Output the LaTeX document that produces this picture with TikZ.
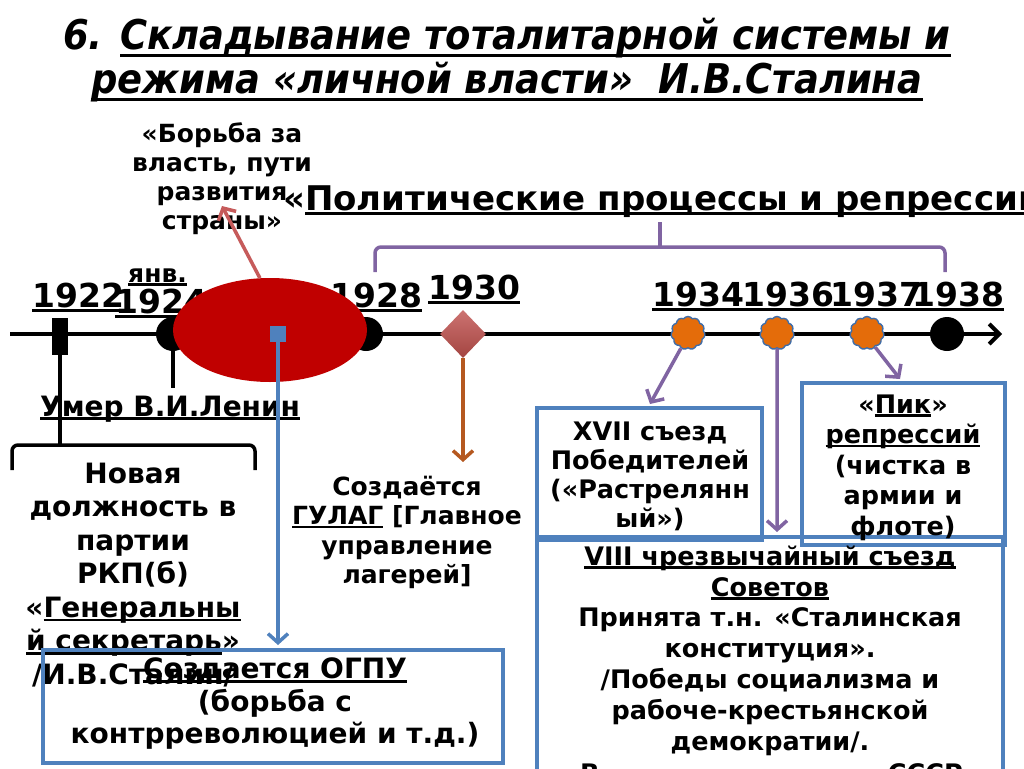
\documentclass[tikz,border=0pt]{standalone}
\usepackage{fontspec}
\setmainfont{DejaVu Sans}
\newfontfamily\titlefont{DejaVu Sans Condensed}
\usetikzlibrary{arrows.meta,shapes.symbols,shapes.geometric}
\newsavebox\ulbox
\newcommand\uln[2][0.14em]{\sbox\ulbox{#2}\rlap{\rule[-#1]{\wd\ulbox}{0.09em}}\usebox\ulbox}
\newcommand\fsz[2]{\fontsize{#1}{#2}\selectfont}
\newcommand\tp{\rule{0pt}{0.8em}}
\definecolor{myblue}{HTML}{4F81BD}
\definecolor{mypurple}{HTML}{8064A2}
\definecolor{mybrown}{HTML}{B5581F}
\definecolor{myred}{HTML}{C00000}
\definecolor{arrred}{HTML}{C65B5B}
\definecolor{dia}{HTML}{C0504D}
\definecolor{blob}{HTML}{E46C0A}
\definecolor{blobedge}{HTML}{3F6DA8}
\tikzset{
  txt/.style={align=center, inner sep=0pt},
  year/.style={font=\bfseries\fsz{33}{36}, anchor=base west, inner sep=0pt},
  boxr/.style={draw=myblue, line width=3.5pt, inner sep=0pt},
  barb/.style={line width=3.5pt, -{Straight Barb[length=9pt,width=20pt]}},
  blobnode/.style={cloud, cloud puffs=11, cloud puff arc=110, aspect=1, fill=blob, draw=blobedge, line width=1.4pt, minimum width=34pt, minimum height=33pt, inner sep=0pt},
  dot/.style={circle, fill=black, minimum size=34pt, inner sep=0pt}
}
\begin{document}
\begin{tikzpicture}[x=1pt,y=-1pt]
\useasboundingbox (0,0) rectangle (1024,768);
\fill[white] (0,0) rectangle (1024,768);

% title
\node[anchor=base, inner sep=0pt, font=\titlefont\bfseries\itshape\fsz{41}{44}] (t1) at (507,49) {6. \uln[0.2em]{Складывание тоталитарной системы и}};
\node[anchor=base, inner sep=0pt, font=\titlefont\bfseries\itshape\fsz{41}{44}] (t2) at (507,93) {\uln[0.2em]{режима «личной власти»\ \ И.В.Сталина}};

% texts
\node[txt, anchor=north, font=\bfseries\fsz{25}{29}] (quote) at (222,122) {\tp«Борьба за\\власть, пути\\развития\\страны»};
\node[txt, anchor=base west, font=\bfseries\fsz{34}{38}] (polit) at (283,210) {«\uln{Политические процессы и репрессии}»};

% purple brace
\draw[mypurple, line width=3.5pt, rounded corners=6pt] (375,272) -- (375,247) -- (945,247) -- (945,272);
\coordinate (ptip) at (660,222);
\draw[mypurple, line width=3.5pt] (660,247) -- (ptip);

% timeline
\coordinate (tl0) at (10,334);
\coordinate (tl1) at (1002,334);
\draw[line width=4pt, -{Straight Barb[length=10pt,width=20pt]}] (tl0) -- (tl1);

% markers
\node[fill=black, minimum width=16pt, minimum height=37pt, inner sep=0pt] (m1922) at (60,336.5) {};
\node[dot] (m1924) at (173,334) {};
\node[dot] (m1928) at (366,334) {};
\node[dot] (m1938) at (947,334) {};
\node[diamond, top color=dia!80!white, bottom color=dia!85!black, minimum width=46pt, minimum height=48pt, inner sep=0pt] (dia1930) at (463,334) {};
\node[blobnode] (c1934) at (688,333) {};
\node[blobnode] (c1936) at (777,333) {};
\node[blobnode] (c1937) at (867,333) {};

% years
\node[year] (y1922) at (32,307) {\uln{1922}};
\node[txt, anchor=base west, font=\bfseries\fsz{25}{28}] (yjan) at (128,282) {\uln{янв.}};
\node[year] (y1924) at (115,313) {\uln{1924}};
\node[year] (y1928) at (330,307) {\uln{1928}};
\node[year] (y1930) at (428,299) {\uln{1930}};
\node[year] (y1934) at (652,306) {\uln{1934}};
\node[year] (y1936) at (742,306) {\uln{1936}};
\node[year] (y1937) at (830,306) {\uln{1937}};
\node[year] (y1938) at (912,306) {\uln{1938}};

% ellipse and square
\node[ellipse, fill=myred, minimum width=194pt, minimum height=104pt, inner sep=0pt] (ell) at (270,330) {};
\node[fill=myblue, minimum size=16pt, inner sep=0pt] (sq) at (278,334) {};

% left side
\coordinate (btip) at (60,445);
\draw[line width=3.5pt] (m1922.south) -- (btip);
\coordinate (l1924) at (173,388);
\draw[line width=3.5pt] (m1924.south) -- (l1924);
\node[txt, anchor=base west, font=\bfseries\fsz{28}{32}] (lenin) at (40,416) {\uln{Умер В.И.Ленин}};
\draw[line width=3.5pt, rounded corners=6pt] (12,470) -- (12,445) -- (255,445) -- (255,470);
\node[txt, anchor=north, font=\bfseries\fsz{28}{33.5}] (gensec) at (133,460.6) {\tp Новая\\должность в\\партии\\РКП(б)\\«\uln{Генеральны}\\\uln{й секретарь}»\\/И.В.Сталин/};

% red arrow
\coordinate (rtip) at (222,206);
\draw[arrred, line width=3.5pt, -{Straight Barb[length=9pt,width=20pt]}] (ell.101) -- (rtip);

% boxes
\node[boxr, minimum width=460pt, minimum height=113pt] (bOGPU) at (273,706.5) {};
\node[boxr, minimum width=225pt, minimum height=132pt] (bXVII) at (649.5,474) {};
\node[boxr, minimum width=203pt, minimum height=162pt] (bPik) at (903.5,464) {};
\draw[myblue, line width=3.5pt] (537,790) -- (537,537) -- (1003,537) -- (1003,790);
\coordinate (bVIII) at (770,537);

% connectors
\draw[myblue, barb] (sq.south) -- (278,645);
\coordinate (gtip) at (463,462);
\draw[mybrown, barb] (dia1930.south) -- (gtip);
\coordinate (a34) at (650,404);
\draw[mypurple, barb] (c1934.-115) -- (a34);
\coordinate (a36) at (777,532);
\draw[mypurple, barb] (c1936.south) -- (a36);
\coordinate (a37) at (900,379);
\draw[mypurple, barb] (c1937.-60) -- (a37);

% box texts
\node[txt, anchor=north, font=\bfseries\fsz{25}{29.5}] (gulag) at (407,475) {\tp Создаётся\\\uln{ГУЛАГ} [Главное\\управление\\лагерей]};
\node[txt, anchor=north, font=\bfseries\fsz{28}{32.5}] (tOGPU) at (275,656) {\tp\uln{Создается ОГПУ}\\(борьба с\\контрреволюцией и т.д.)};
\node[txt, anchor=north, font=\bfseries\fsz{25.5}{29}] (tXVII) at (650,419.6) {\tp XVII съезд\\Победителей\\(«Растрелянн\\ый»)};
\node[txt, anchor=north, font=\bfseries\fsz{25.5}{30.5}] (tPik) at (903,392.6) {\tp«\uln{Пик}»\\\uln{репрессий}\\(чистка в\\армии и\\флоте)};
\node[txt, anchor=north, font=\bfseries\fsz{25.5}{30.8}] (tVIII) at (770,544.6) {\tp\uln{VIII чрезвычайный съезд}\\\uln{Советов}\\Принята т.н. «Сталинская\\конституция».\\/Победы социализма и\\рабоче-крестьянской\\демократии/.};
\node[txt, anchor=base west, font=\bfseries\fsz{25.5}{30}] (tlastA) at (580,782) {В};
\node[txt, anchor=base east, font=\bfseries\fsz{25.5}{30}] (tlastB) at (963,782) {СССР};
\end{tikzpicture}
\end{document}
